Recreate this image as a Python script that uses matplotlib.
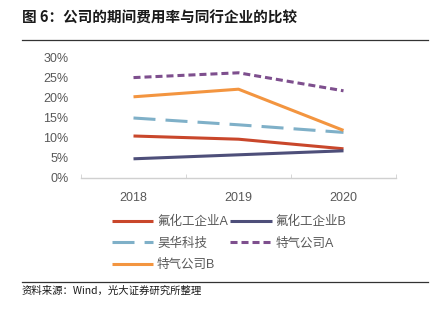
import matplotlib
matplotlib.use("Agg")
import matplotlib.pyplot as plt
from matplotlib.lines import Line2D

plt.rcParams['font.family'] = ['Liberation Sans', 'Noto Sans CJK SC', 'DejaVu Sans']

years = ['2018', '2019', '2020']
fluoro_a = [10.5, 9.7, 7.3]      # 氟化工企业A
fluoro_b = [4.8, 5.8, 6.8]       # 氟化工企业B
haohua = [15.0, 13.3, 11.4]      # 昊华科技
gas_a = [25.1, 26.3, 21.8]       # 特气公司A
gas_b = [20.3, 22.2, 11.9]       # 特气公司B

W, H = 442, 321
fig = plt.figure(figsize=(W / 100, H / 100), dpi=100)
ax = fig.add_axes([81 / W, 1 - 178 / H, 315 / W, 120 / H])

x = range(len(years))
lw = 2.2
h_a, = ax.plot(x, fluoro_a, color='#C9472B', lw=lw, solid_capstyle='butt')
h_b, = ax.plot(x, fluoro_b, color='#4E4F7A', lw=lw, solid_capstyle='butt')
h_hh, = ax.plot(x, haohua, color='#7FB0C8', lw=lw, dashes=(7.2, 3.3), dash_capstyle='butt')
h_ga, = ax.plot(x, gas_a, color='#7E4F8E', lw=lw, dashes=(2.3, 1.3), dash_capstyle='butt')
h_gb, = ax.plot(x, gas_b, color='#F39540', lw=lw, solid_capstyle='butt')

ax.set_xlim(-0.5, 2.5)
ax.set_ylim(0, 30)
ax.set_yticks([0, 5, 10, 15, 20, 25, 30])
ax.set_yticklabels([f'{v}%' for v in [0, 5, 10, 15, 20, 25, 30]])
ax.set_xticks(list(x))
ax.set_xticklabels(years)
ax.set_xticks([-0.5, 0.5, 1.5, 2.5], minor=True)
ax.tick_params(axis='x', which='major', length=0, pad=10, labelsize=9, labelcolor='#595959')
ax.tick_params(axis='x', which='minor', direction='in', length=3, color='#D0D0D0')
ax.tick_params(axis='y', length=0, pad=9, labelsize=9, labelcolor='#595959')
for s in ['top', 'right', 'left']:
    ax.spines[s].set_visible(False)
ax.spines['bottom'].set_color('#D0D0D0')
ax.spines['bottom'].set_linewidth(1)

handles = [h_a, h_hh, h_gb, h_b, h_ga]
labels = ['氟化工企业A', '昊华科技', '特气公司B', '氟化工企业B', '特气公司A']
leg = fig.legend(handles, labels, ncol=2, loc='upper left',
                 bbox_to_anchor=(112 / W, 1 - 216 / H), frameon=False,
                 fontsize=9, handlelength=3.3, handletextpad=0.3,
                 columnspacing=0.2, labelspacing=0.75, borderaxespad=0, borderpad=0)
for t in leg.get_texts():
    t.set_color('#595959')

# title and frame lines
fig.text(22 / W, 1 - 18 / H, '图 6：公司的期间费用率与同行企业的比较', fontsize=10.5,
         fontweight='bold', va='center', ha='left', color='#1a1a1a',
         family=['Noto Sans CJK SC', 'DejaVu Sans'])
fig.add_artist(Line2D([22 / W, 428 / W], [1 - 40 / H, 1 - 40 / H], color='#333333', lw=0.9))
fig.add_artist(Line2D([22 / W, 428 / W], [1 - 282 / H, 1 - 282 / H], color='#333333', lw=0.9))
fig.text(22 / W, 1 - 291 / H, '资料来源：Wind，光大证券研究所整理', fontsize=7.5,
         va='center', ha='left', color='#1a1a1a',
         family=['Noto Sans CJK SC', 'DejaVu Sans'])

fig.savefig('out.png', dpi=100)
